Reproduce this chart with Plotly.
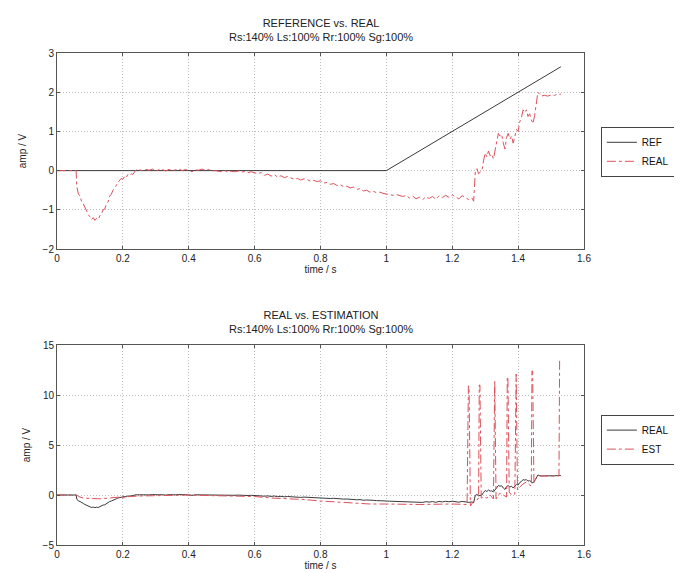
import plotly.graph_objects as go

# ---------------- data ----------------
t_ref = [0.0, 1.0, 1.53]
v_ref = [0.0, 0.0, 2.65]

t_real = [0.0, 0.058, 0.06, 0.065, 0.07, 0.075, 0.08, 0.085, 0.09, 0.095, 0.10, 0.105, 0.11, 0.115,
          0.12, 0.125, 0.13, 0.135, 0.14, 0.145, 0.15, 0.155, 0.16, 0.165, 0.17, 0.175, 0.18, 0.185,
          0.19, 0.195, 0.20, 0.205, 0.21, 0.215, 0.22, 0.225, 0.23, 0.235, 0.24,
          0.25, 0.26, 0.27, 0.28, 0.29, 0.30, 0.31, 0.32, 0.33, 0.34, 0.35, 0.36, 0.37, 0.38, 0.39,
          0.40, 0.41, 0.42, 0.43, 0.44, 0.45, 0.46, 0.47, 0.48, 0.49, 0.50, 0.51, 0.52, 0.53, 0.54,
          0.55, 0.56, 0.57, 0.58, 0.59, 0.60, 0.61, 0.62, 0.63, 0.64, 0.65, 0.66, 0.67, 0.68, 0.69,
          0.70, 0.71, 0.72, 0.73, 0.74, 0.75, 0.76, 0.77, 0.78, 0.79, 0.80, 0.81, 0.82, 0.83, 0.84,
          0.85, 0.86, 0.87, 0.88, 0.89, 0.90, 0.91, 0.92, 0.93, 0.94, 0.95, 0.96, 0.97, 0.98, 0.99,
          1.00, 1.01, 1.02, 1.03, 1.04, 1.05, 1.06, 1.07, 1.08, 1.09, 1.10, 1.11, 1.12, 1.13, 1.14,
          1.15, 1.16, 1.17, 1.18, 1.19, 1.20, 1.21, 1.22, 1.23, 1.24, 1.25, 1.26, 1.265,
          1.27, 1.275, 1.28, 1.285, 1.29, 1.295, 1.30, 1.305, 1.31, 1.315, 1.32, 1.325, 1.33, 1.335,
          1.34, 1.345, 1.35, 1.355, 1.36, 1.365, 1.37, 1.375, 1.38, 1.385, 1.39, 1.395, 1.40, 1.405,
          1.41, 1.415, 1.42, 1.425, 1.43, 1.435, 1.44, 1.445, 1.45, 1.455, 1.46, 1.465, 1.47, 1.48,
          1.49, 1.50, 1.51, 1.52, 1.53]
v_real = [0.0, 0.0, -0.40, -0.60, -0.65, -0.80, -0.85, -0.95, -1.05, -1.12, -1.18, -1.25, -1.20, -1.27,
          -1.22, -1.25, -1.15, -1.10, -1.00, -0.98, -0.85, -0.80, -0.65, -0.60, -0.50, -0.45, -0.38, -0.30,
          -0.25, -0.20, -0.22, -0.15, -0.18, -0.10, -0.12, -0.08, -0.10, -0.04, 0.02,
          0.02, 0.00, 0.03, 0.01, 0.04, 0.00, 0.02, 0.03, -0.01, 0.03, 0.00, 0.02, 0.04, 0.00, 0.03,
          0.00, -0.03, 0.02, 0.01, 0.04, 0.01, 0.03, -0.01, 0.00, -0.02, -0.03, 0.00, -0.04, -0.02, -0.03,
          -0.01, -0.04, -0.02, -0.05, -0.03, -0.06, -0.08, -0.05, -0.12, -0.09, -0.14, -0.10, -0.17, -0.13, -0.18,
          -0.15, -0.19, -0.22, -0.20, -0.24, -0.21, -0.23, -0.27, -0.25, -0.28, -0.26, -0.32, -0.30, -0.35, -0.33,
          -0.38, -0.36, -0.41, -0.40, -0.44, -0.42, -0.48, -0.46, -0.52, -0.50, -0.55, -0.53, -0.56, -0.55, -0.58,
          -0.60, -0.62, -0.63, -0.61, -0.64, -0.66, -0.63, -0.70, -0.65, -0.72, -0.68, -0.74, -0.67, -0.71, -0.66,
          -0.73, -0.64, -0.69, -0.63, -0.68, -0.62, -0.66, -0.72, -0.64, -0.68, -0.74, -0.70, -0.78,
          -0.02, 0.05, -0.08, -0.05, 0.00, 0.25, 0.45, 0.35, 0.50, 0.38, 0.42, 0.30, 0.55, 0.75,
          0.95, 0.88, 0.92, 0.70, 0.55, 0.85, 0.95, 0.80, 0.88, 0.70, 0.92, 1.05, 1.00, 1.25,
          1.35, 1.55, 1.48, 1.55, 1.38, 1.45, 1.30, 1.20, 1.40, 1.65, 2.00, 1.95, 1.90, 1.92,
          1.90, 1.93, 1.92, 1.95, 1.95]

t_est = [0.0, 0.06, 0.065, 0.08, 0.10, 0.13, 0.16, 0.19, 0.20, 0.22, 0.25, 0.30, 0.35, 0.40, 0.45,
         0.50, 0.55, 0.60, 0.65, 0.70, 0.75, 0.80, 0.85, 0.90, 0.95, 1.00, 1.10, 1.20, 1.245,
         1.249, 1.251, 1.255, 1.265, 1.275, 1.280,
         1.282, 1.284, 1.288, 1.295, 1.305, 1.315, 1.325,
         1.327, 1.329, 1.333, 1.345, 1.355, 1.365,
         1.367, 1.369, 1.373, 1.380, 1.390,
         1.392, 1.394, 1.398, 1.405, 1.415, 1.425, 1.435, 1.440,
         1.442, 1.444, 1.448, 1.455, 1.465, 1.48, 1.50, 1.524, 1.526]
v_est = [0.0, 0.0, -0.15, -0.30, -0.35, -0.38, -0.30, -0.20, -0.30, -0.15, -0.10, -0.05, -0.05, 0.0, -0.05,
         -0.10, -0.10, -0.15, -0.30, -0.35, -0.45, -0.60, -0.70, -0.85, -0.90, -0.90, -0.95, -0.90, -0.95,
         10.9, 10.9, -1.10, -0.60, -0.50, -0.30,
         11.0, 11.0, -0.30, -0.20, -0.30, 0.00, -0.40,
         11.4, 11.4, -0.40, 0.20, 0.00, -0.20,
         11.8, 11.8, 0.30, 0.00, 0.10,
         12.1, 12.1, 0.50, 0.80, 1.10, 1.30, 1.00, 0.90,
         12.4, 12.4, 1.20, 1.70, 1.90, 1.90, 1.90, 1.90, 13.6]

xticks = [0, 0.2, 0.4, 0.6, 0.8, 1, 1.2, 1.4, 1.6]
xticklabels = ["0", "0.2", "0.4", "0.6", "0.8", "1", "1.2", "1.4", "1.6"]
yticks_top = [-2, -1, 0, 1, 2, 3]
yticks_bot = [-5, 0, 5, 10, 15]

title_top = "REFERENCE vs. REAL<br>Rs:140% Ls:100% Rr:100% Sg:100%"
title_bot = "REAL vs. ESTIMATION<br>Rs:140% Ls:100% Rr:100% Sg:100%"

# ---------------- styles ----------------
FONT = "Liberation Sans, Arial, sans-serif"
BLACK = "#3a3a3a"
RED = "rgb(222,80,90)"

fig = go.Figure()
fig.add_trace(go.Scatter(x=t_ref, y=v_ref, name="REF", mode="lines",
                         line=dict(color=BLACK, width=1), xaxis="x", yaxis="y", legend="legend"))
fig.add_trace(go.Scatter(x=t_real, y=v_real, name="REAL", mode="lines",
                         line=dict(color=RED, width=1, dash="dashdot"), xaxis="x", yaxis="y", legend="legend"))
fig.add_trace(go.Scatter(x=t_real, y=v_real, name="REAL", mode="lines",
                         line=dict(color=BLACK, width=1), xaxis="x2", yaxis="y2", legend="legend2"))
fig.add_trace(go.Scatter(x=t_est, y=v_est, name="EST", mode="lines",
                         line=dict(color=RED, width=1, dash="dashdot"), xaxis="x2", yaxis="y2", legend="legend2"))

top_dom = [0.6016, 1.0]
bot_dom = [0.0, 0.4065]

axis_common = dict(showline=True, linecolor="#555", linewidth=1, mirror="ticks",
                   ticks="inside", ticklen=3, tickcolor="#555",
                   showgrid=True, gridcolor="#bdbdbd", griddash="1px,2px", gridwidth=1,
                   zeroline=False, tickfont=dict(family=FONT, size=10, color="#222"))

fig.update_layout(
    width=682, height=573,
    margin=dict(l=49, r=106, t=45, b=36),
    paper_bgcolor="white", plot_bgcolor="white",
    font=dict(family=FONT, size=10, color="#222"),
    xaxis=dict(domain=[0, 1], anchor="y", range=[0, 1.6], tickvals=xticks, ticktext=xticklabels,
               title=dict(text="time / s", standoff=2, font=dict(size=10)), **axis_common),
    yaxis=dict(domain=top_dom, anchor="x", range=[-2, 3], tickvals=yticks_top,
               title=dict(text="amp / V", standoff=14, font=dict(size=10)), **axis_common),
    xaxis2=dict(domain=[0, 1], anchor="y2", range=[0, 1.6], tickvals=xticks, ticktext=xticklabels,
                title=dict(text="time / s", standoff=2, font=dict(size=10)), **axis_common),
    yaxis2=dict(domain=bot_dom, anchor="x2", range=[-5, 15], tickvals=yticks_bot,
                title=dict(text="amp / V", standoff=10, font=dict(size=10)), **axis_common),
    legend=dict(x=1.032, y=0.85, xanchor="left", yanchor="top", bordercolor="#444", borderwidth=1,
                bgcolor="white", font=dict(family=FONT, size=10, color="#111"),
                itemwidth=30, tracegroupgap=0),
    legend2=dict(x=1.032, y=0.265, xanchor="left", yanchor="top", bordercolor="#444", borderwidth=1,
                 bgcolor="white", font=dict(family=FONT, size=10, color="#111"),
                 itemwidth=30, tracegroupgap=0),
    annotations=[
        dict(text=title_top, x=0.5, y=top_dom[1], xref="paper", yref="paper", xanchor="center",
             yanchor="bottom", yshift=8, showarrow=False, font=dict(family=FONT, size=11, color="#222")),
        dict(text=title_bot, x=0.5, y=bot_dom[1], xref="paper", yref="paper", xanchor="center",
             yanchor="bottom", yshift=8, showarrow=False, font=dict(family=FONT, size=11, color="#222")),
    ],
    showlegend=True,
)

fig.write_html("out.html")
